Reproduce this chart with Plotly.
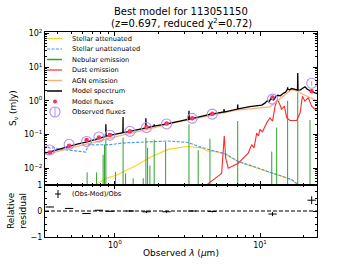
import numpy as np
import plotly.graph_objects as go

# ---------------- data ----------------
# Observed photometry (wavelength in micron, flux in mJy)
band_wl = [0.356, 0.484, 0.638, 0.776, 0.924, 1.27, 1.65, 2.27, 3.41, 4.69, 12.2, 22.7]
obs_flux = [0.0345, 0.051, 0.062, 0.084, 0.095, 0.124, 0.160, 0.205, 0.300, 0.400, 1.12, 3.30]
model_flux = [0.0292, 0.046, 0.068, 0.0815, 0.096, 0.124, 0.165, 0.211, 0.300, 0.408, 1.25, 1.93]
rel_err = [0.012, 0.02, 0.012, 0.012, 0.012, 0.04, 0.05, 0.04, 0.02, 0.03, 0.08, 0.15]

# Model spectrum continuum
spec_wl = [0.30, 0.33, 0.356, 0.40, 0.445, 0.484, 0.55, 0.644, 0.70, 0.776, 0.85, 0.924, 1.0,
           1.14, 1.27, 1.46, 1.65, 1.9, 2.27, 2.7, 3.2, 3.56, 4.0, 4.74, 5.74, 7.08, 8.5, 9.74,
           10.3, 10.8, 11.2, 11.5, 11.9, 12.4, 12.9, 13.3, 13.8, 14.4, 15.0, 15.5, 16.0, 16.5,
           17.2, 18.0, 19.0, 19.6, 20.4, 21.2, 22.1, 23.0, 24.0, 25.0, 26.0]
spec_flux = [0.025, 0.0275, 0.030, 0.035, 0.040, 0.045, 0.052, 0.060, 0.066, 0.078, 0.086, 0.094,
             0.102, 0.113, 0.124, 0.140, 0.158, 0.180, 0.205, 0.240, 0.280, 0.310, 0.350, 0.410,
             0.470, 0.575, 0.670, 0.720, 0.740, 0.850, 1.00, 0.92, 1.15, 1.05, 1.35, 1.45, 1.40,
             1.65, 1.80, 2.20, 2.10, 2.30, 2.20, 2.05, 2.10, 2.35, 2.60, 2.20, 1.95, 1.80, 1.70,
             1.62, 1.55]
# Emission-line spikes on the model spectrum
spike_wl = [0.867, 1.139, 1.636, 1.866, 2.237, 3.24, 4.52, 5.65, 7.02, 15.5, 18.2]
spike_flux = [0.20, 0.33, 0.30, 0.20, 0.22, 0.50, 0.42, 0.57, 0.77, 2.5, 6.7]

# Stellar unattenuated
sun_wl = [0.30, 0.324, 0.34, 0.36, 0.38, 0.40, 0.445, 0.50, 0.595, 0.63, 0.645, 0.66, 0.717,
          0.939, 1.15, 1.46, 2.32, 3.19, 3.96, 4.89, 5.74, 7.08, 9.74, 12.0, 16.5, 18.4, 22.0, 26.0]
sun_flux = [0.042, 0.040, 0.043, 0.039, 0.041, 0.038, 0.0355, 0.034, 0.031, 0.030, 0.040, 0.050,
            0.049, 0.050, 0.056, 0.058, 0.064, 0.058, 0.041, 0.032, 0.027, 0.016, 0.0101, 0.0074,
            0.0046, 0.0032, 0.0022, 0.0015]

# Stellar attenuated
sat_wl = [0.68, 0.736, 0.88, 1.04, 1.40, 1.79, 2.33, 3.12, 3.96, 4.29, 4.89, 5.74, 7.08, 9.74,
          12.0, 16.5, 18.4, 22.0, 26.0]
sat_flux = [0.0025, 0.0033, 0.0050, 0.0064, 0.012, 0.022, 0.036, 0.044, 0.040, 0.033, 0.031,
            0.026, 0.0155, 0.0098, 0.0072, 0.0045, 0.0031, 0.0021, 0.0014]

# Nebular emission lines
neb_wl = [0.644, 0.748, 0.830, 0.849, 0.867, 1.011, 1.139, 1.185, 1.337, 1.567, 1.636, 1.68,
          1.743, 1.866, 2.237, 3.24, 3.75, 4.52, 7.02, 12.05, 13.03, 15.5, 18.2, 22.1]
neb_flux = [0.0075, 0.0075, 0.025, 0.05, 0.07, 0.0078, 0.08, 0.007, 0.005, 0.005, 0.08, 0.04,
            0.012, 0.07, 0.06, 0.20, 0.034, 0.075, 0.25, 0.031, 0.16, 1.0, 1.76, 0.27]

# Dust emission
dust_wl = [4.0, 4.29, 5.30, 5.44, 5.67, 5.80, 6.04, 7.08, 8.30, 8.77, 9.10, 9.49, 9.75, 10.0,
           10.4, 11.1, 11.7, 12.2, 12.7, 13.2, 13.7, 14.1, 14.7, 15.3, 16.1, 17.9, 18.9, 19.6,
           20.4, 21.5, 22.7, 23.9, 26.0]
dust_flux = [0.002, 0.0032, 0.0064, 0.0071, 0.090, 0.020, 0.010, 0.014, 0.028, 0.050, 0.040,
             0.110, 0.090, 0.140, 0.120, 0.220, 0.310, 0.250, 0.690, 1.09, 0.77, 0.55, 0.69, 0.31,
             0.26, 0.26, 0.44, 1.36, 0.97, 1.22, 0.69, 0.55, 0.60]

# AGN emission
agn_wl = [0.30, 0.33, 0.356, 0.50, 0.644, 0.80, 1.0, 1.27, 1.65, 2.0, 2.4, 3.29, 4.52, 6.9,
          10.6, 11.7, 16.5, 17.5, 19.9, 24.6, 26.0]
agn_flux = [0.023, 0.025, 0.027, 0.040, 0.051, 0.066, 0.085, 0.107, 0.140, 0.170, 0.210, 0.270,
            0.360, 0.530, 0.640, 0.660, 2.15, 2.05, 1.53, 0.985, 0.90]

title_line1 = "Best model for 113051150"
title_line2 = "(z=0.697, reduced χ<sup>2</sup>=0.72)"

y_tick_vals = [1e-2, 1e-1, 1e0, 1e1, 1e2]
y_tick_text = ["10<sup>−2</sup>", "10<sup>−1</sup>", "10<sup>0</sup>", "10<sup>1</sup>", "10<sup>2</sup>"]
x_tick_vals = [1, 10]
x_tick_text = ["10<sup>0</sup>", "10<sup>1</sup>"]
res_tick_vals = [-1, 0, 1]
res_tick_text = ["−1", "0", "1"]

# ---------------- derived ----------------
obs = np.array(obs_flux)
mod = np.array(model_flux)
resid = (obs - mod) / obs
obs_err = obs * np.array(rel_err)

lw = np.log10(spec_wl)
lf = np.log10(spec_flux)
full_wl = list(spec_wl)
full_fl = list(spec_flux)
for w, p in zip(spike_wl, spike_flux):
    for f in (0.996, 1.004):
        ww = w * f
        full_wl.append(ww)
        full_fl.append(10 ** np.interp(np.log10(ww), lw, lf))
    full_wl.append(w)
    full_fl.append(p)
order = np.argsort(full_wl)
full_wl = np.array(full_wl)[order]
full_fl = np.array(full_fl)[order]

neb_x, neb_y = [], []
for w, p in zip(neb_wl, neb_flux):
    neb_x += [w, w, None]
    neb_y += [1e-4, p, None]

minor_y = [m * 10.0 ** e for e in range(-3, 3) for m in range(2, 10)]
minor_x = [m * 10.0 ** e for e in range(-1, 2) for m in range(2, 10)]

FONT = "DejaVu Sans"
C_SAT = "#FFD21F"
C_SUN = "#3D95FF"
C_NEB = "#2EA12E"
C_DUST = "#FF2A2A"
C_AGN = "#FFB07A"
C_OBS = "#B78DF2"
C_MOD = "#FF2E55"

fig = go.Figure()
fig.add_trace(go.Scatter(x=sat_wl, y=sat_flux, mode="lines", line=dict(color=C_SAT, width=1.1),
                         xaxis="x", yaxis="y"))
fig.add_trace(go.Scatter(x=sun_wl, y=sun_flux, mode="lines",
                         line=dict(color=C_SUN, width=1.1, dash="3px,1.5px"), xaxis="x", yaxis="y"))
fig.add_trace(go.Scatter(x=neb_x, y=neb_y, mode="lines", line=dict(color=C_NEB, width=1.0),
                         xaxis="x", yaxis="y"))
fig.add_trace(go.Scatter(x=dust_wl, y=dust_flux, mode="lines", line=dict(color=C_DUST, width=1.1),
                         xaxis="x", yaxis="y"))
fig.add_trace(go.Scatter(x=agn_wl, y=agn_flux, mode="lines", line=dict(color=C_AGN, width=1.3),
                         xaxis="x", yaxis="y"))
fig.add_trace(go.Scatter(x=full_wl, y=full_fl, mode="lines", line=dict(color="black", width=1.3),
                         xaxis="x", yaxis="y"))
fig.add_trace(go.Scatter(x=band_wl, y=model_flux, mode="markers",
                         marker=dict(color=C_MOD, size=4.5), xaxis="x", yaxis="y"))
fig.add_trace(go.Scatter(x=band_wl, y=obs_flux, mode="markers",
                         marker=dict(symbol="circle-open", color=C_OBS, size=10, line=dict(width=1.1)),
                         error_y=dict(type="data", array=obs_err, color=C_OBS, thickness=1, width=0),
                         xaxis="x", yaxis="y"))
fig.add_trace(go.Scatter(x=band_wl, y=resid, mode="markers",
                         marker=dict(symbol="line-ew-open", color="black", size=6,
                                     line=dict(width=1, color="black")),
                         error_y=dict(type="data", array=rel_err, color="black", thickness=1, width=0),
                         xaxis="x2", yaxis="y2"))

# ---------------- layout ----------------
W, H = 353, 265
PLOT_L, PLOT_R, PLOT_T, PLOT_B = 45, 317, 32, 237          # page pixels
L, T = PLOT_L, PLOT_T
R, B = W - PLOT_R, H - PLOT_B
PW, PH = PLOT_R - PLOT_L, PLOT_B - PLOT_T
split = 52 / PH


def pxx(px):
    return (px - PLOT_L) / PW


def pyy(py):
    return (PLOT_B - py) / PH


xr = [np.log10(0.33), np.log10(24.7)]
axis_common = dict(showline=True, linecolor="black", linewidth=1, mirror="allticks",
                   ticks="inside", ticklen=4, tickcolor="black", tickwidth=0.8,
                   showgrid=False, zeroline=False, automargin=False,
                   tickfont=dict(family=FONT, size=8, color="black"))
minor_common = dict(ticks="inside", ticklen=2, tickcolor="black", tickwidth=0.6, showgrid=False)

fig.update_layout(
    width=W, height=H, autosize=False, margin=dict(l=L, r=R, t=T, b=B),
    paper_bgcolor="white", plot_bgcolor="white", showlegend=False,
    font=dict(family=FONT, color="black"),
    xaxis=dict(type="log", range=xr, domain=[0, 1], anchor="y", showticklabels=False,
               tickmode="array", tickvals=x_tick_vals, ticktext=x_tick_text,
               minor=dict(tickmode="array", tickvals=minor_x, **minor_common), **axis_common),
    yaxis=dict(type="log", range=[-2.5, 2.04], domain=[split, 1], anchor="x",
               tickmode="array", tickvals=y_tick_vals, ticktext=y_tick_text,
               minor=dict(tickmode="array", tickvals=minor_y, **minor_common), **axis_common),
    xaxis2=dict(type="log", range=xr, domain=[0, 1], anchor="y2", matches="x",
                tickmode="array", tickvals=x_tick_vals, ticktext=x_tick_text,
                minor=dict(tickmode="array", tickvals=minor_x, **minor_common), **axis_common),
    yaxis2=dict(range=[-1, 1], domain=[0, split], anchor="x2",
                tickmode="array", tickvals=res_tick_vals, ticktext=res_tick_text,
                minor=dict(tickmode="array", tickvals=[-0.75, -0.5, -0.25, 0.25, 0.5, 0.75],
                           **minor_common), **axis_common),
)

shapes = []
annotations = []

shapes.append(dict(type="line", xref="paper", yref="y2", x0=0, x1=1, y0=0, y1=0,
                   line=dict(color="black", width=1.2, dash="4px,2px")))

leg_rows = [38.5, 49, 59.5, 70, 80.5, 91, 101.5, 112]
leg_labels = ["Stellar attenuated", "Stellar unattenuated", "Nebular emission", "Dust emission",
              "AGN emission", "Model spectrum", "Model fluxes", "Observed fluxes"]
leg_styles = [dict(color=C_SAT, width=1.2), dict(color=C_SUN, width=1.2, dash="3px,1.5px"),
              dict(color=C_NEB, width=1.5), dict(color=C_DUST, width=1.2),
              dict(color=C_AGN, width=1.4), dict(color="black", width=1.5)]
for i, (py, lab) in enumerate(zip(leg_rows, leg_labels)):
    if i < 6:
        shapes.append(dict(type="line", xref="paper", yref="paper", x0=pxx(47), x1=pxx(62),
                           y0=pyy(py), y1=pyy(py), line=leg_styles[i]))
    annotations.append(dict(text=lab, xref="paper", yref="paper", x=pxx(69.5), y=pyy(py),
                            xanchor="left", yanchor="middle", showarrow=False,
                            font=dict(family=FONT, size=6.6, color="black")))
shapes.append(dict(type="circle", xref="paper", yref="paper", xsizemode="pixel", ysizemode="pixel",
                   xanchor=pxx(55), yanchor=pyy(101.5), x0=-2, x1=2, y0=-2, y1=2,
                   fillcolor=C_MOD, line=dict(width=0)))
shapes.append(dict(type="circle", xref="paper", yref="paper", xsizemode="pixel", ysizemode="pixel",
                   xanchor=pxx(55), yanchor=pyy(112), x0=-5, x1=5, y0=-5, y1=5,
                   line=dict(color=C_OBS, width=1.1)))
shapes.append(dict(type="line", xref="paper", yref="paper", x0=pxx(55), x1=pxx(55),
                   y0=pyy(107), y1=pyy(117), line=dict(color=C_OBS, width=1)))

shapes.append(dict(type="line", xref="paper", yref="paper", x0=pxx(55), x1=pxx(61),
                   y0=pyy(194), y1=pyy(194), line=dict(color="black", width=1)))
shapes.append(dict(type="line", xref="paper", yref="paper", x0=pxx(58), x1=pxx(58),
                   y0=pyy(190), y1=pyy(198), line=dict(color="black", width=1)))
annotations.append(dict(text="(Obs-Mod)/Obs", xref="paper", yref="paper", x=pxx(69.5), y=pyy(194),
                        xanchor="left", yanchor="middle", showarrow=False,
                        font=dict(family=FONT, size=6.6, color="black")))

annotations.append(dict(text=title_line1, xref="paper", yref="paper", x=pxx(181), y=pyy(12),
                        xanchor="center", yanchor="middle", showarrow=False,
                        font=dict(family=FONT, size=10, color="black")))
annotations.append(dict(text=title_line2, xref="paper", yref="paper", x=pxx(181), y=pyy(23),
                        xanchor="center", yanchor="middle", showarrow=False,
                        font=dict(family=FONT, size=10, color="black")))
annotations.append(dict(text="S<sub>ν</sub> (mJy)", xref="paper", yref="paper", x=pxx(13),
                        y=pyy(108), xanchor="center", yanchor="middle", textangle=-90,
                        showarrow=False, font=dict(family=FONT, size=9, color="black")))
annotations.append(dict(text="Relative<br>residual", xref="paper", yref="paper", x=pxx(17),
                        y=pyy(211), xanchor="center", yanchor="middle", textangle=-90,
                        showarrow=False, font=dict(family=FONT, size=9, color="black")))
annotations.append(dict(text="Observed <i>λ</i> (<i>μ</i>m)", xref="paper", yref="paper",
                        x=pxx(181), y=pyy(253), xanchor="center", yanchor="middle",
                        showarrow=False, font=dict(family=FONT, size=9, color="black")))

fig.update_layout(shapes=shapes, annotations=annotations)
fig.write_html("out.html",
               config={"displayModeBar": False, "responsive": False},
               post_script="document.body.style.margin='0px';document.body.style.padding='0px';")
